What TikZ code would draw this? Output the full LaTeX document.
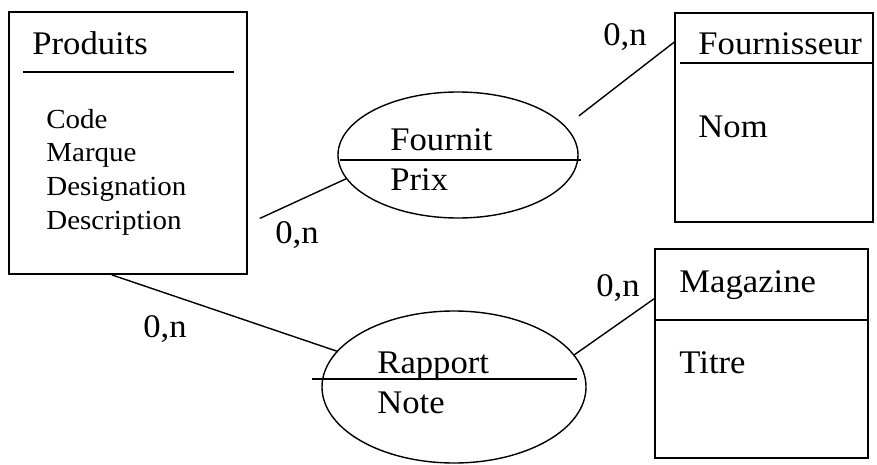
\documentclass[tikz,border=0pt]{standalone}
\usepackage{fontspec}
\setmainfont{Liberation Serif}[FakeStretch=1.05]
\usetikzlibrary{shapes.geometric}

\begin{document}
\begin{tikzpicture}[x=0.5pt,y=-0.5pt,
        entity/.style={draw,line width=0.9pt,rectangle,inner sep=0pt},
        assoc/.style={draw,line width=0.7pt,ellipse,inner sep=0pt},
        title/.style={anchor=base west,inner sep=0pt,font=\fontsize{16.5}{19}\selectfont},
        attr/.style={anchor=base west,inner sep=0pt,font=\fontsize{13.8}{16}\selectfont},
        link/.style={line width=0.7pt}]
        \useasboundingbox (0,0) rectangle (877,465);
        %% Entities
        \node[entity,minimum width=119pt,minimum height=131pt] (prod) at (128,143) {};
        \node[entity,minimum width=99pt,minimum height=104.5pt] (four) at (774,117.5) {};
        \node[entity,minimum width=106.5pt,minimum height=104.5pt] (mag) at (761.5,353.5) {};
        \draw[line width=0.9pt] (23,72) -- (234,72);
        \draw[line width=0.9pt] (680,63) -- (873,63);
        \draw[line width=0.9pt] (655,320) -- (868,320);
        \node[title] (prodname) at (32,55) {Produits};
        \node[attr] (code) at (46,128) {Code};
        \node[attr] (marque) at (46,162) {Marque};
        \node[attr] (desig) at (46,195) {Designation};
        \node[attr] (descr) at (46,229) {Description};
        \node[title] (fourname) at (698,55) {Fournisseur};
        \node[title] (nom) at (698,137) {Nom};
        \node[title] (magname) at (679,292) {Magazine};
        \node[title] (titre) at (679,373) {Titre};
        %% Associations
        \node[assoc,minimum width=120pt,minimum height=63pt] (fournit) at (458,155) {};
        \node[assoc,minimum width=132pt,minimum height=76pt] (rapport) at (454,387) {};
        \draw[line width=0.9pt] (340,160) -- (581,160);
        \draw[line width=0.9pt] (312,379) -- (577,379);
        \node[title] (fournitname) at (390,150) {Fournit};
        \node[title] (prix) at (390,190) {Prix};
        \node[title] (rapportname) at (377,373) {Rapport};
        \node[title] (note) at (377,413) {Note};
        %% Links
        \draw[link,shorten <=6.5pt] (prod.-34.2) -- (fournit.192.5);
        \draw[link,shorten <=8.4pt] (fournit.15.9) -- (four.143);
        \draw[link] (prod.263.5) -- (rapport.163.3);
        \draw[link] (rapport.15.6) -- (mag.153.8);
        %% Cardinalities
        \node[title] (c1) at (275,243) {0,n};
        \node[title] (c2) at (603,46) {0,n};
        \node[title] (c3) at (143,337) {0,n};
        \node[title] (c4) at (596,296) {0,n};
\end{tikzpicture}
\end{document}
